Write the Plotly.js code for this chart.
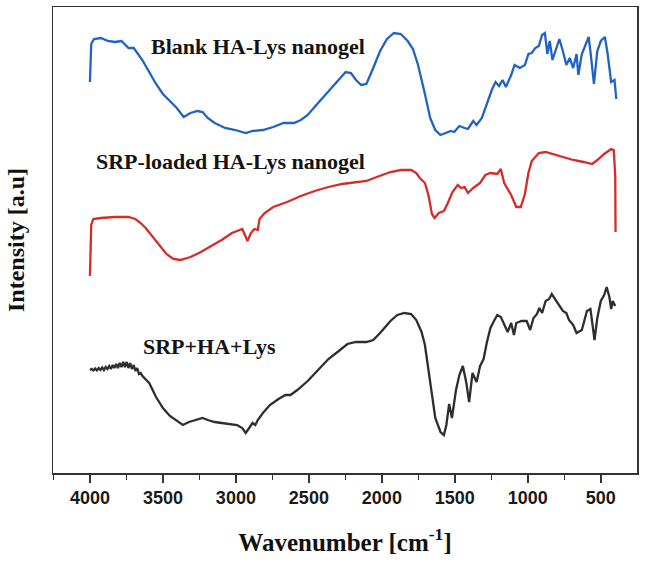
<!DOCTYPE html>
<html>
<head>
<meta charset="utf-8">
<script src="https://cdn.plot.ly/plotly-3.0.1.min.js"></script>
<style>html,body{margin:0;padding:0;background:#fff;}#chart{width:645px;height:562px;}</style>
</head>
<body>
<div id="chart"></div>
<script>
// Wavenumber (cm-1) and intensity (a.u., offset stacked)
const blankX = [4000,3991,3972,3925,3877,3830,3783,3759,3736,3700,3677,3641,3594,3547,3500,3452,3405,3358,3311,3263,3228,3193,3145,3074,3004,2933,2886,2815,2744,2673,2602,2555,2508,2437,2366,2295,2248,2212,2177,2142,2106,2059,2012,1965,1917,1870,1823,1787,1752,1705,1669,1634,1598,1563,1528,1504,1469,1433,1410,1374,1351,1315,1280,1244,1221,1197,1173,1150,1114,1091,1055,1020,996,973,949,925,902,883,866,850,831,807,784,760,736,713,689,666,654,630,607,583,566,547,524,500,472,453,429,406,394];
const blankY = [391,429,434,435,432,431,432,428,425,425,420,413,401,389,379,372,365,356,360,362,361,355,350,345,343,340,342,343,346,350,350,353,358,370,382,394,401,400,393,388,389,405,422,434,440,439,432,424,408,379,355,343,338,340,342,341,347,345,344,352,348,355,370,384,391,387,393,386,398,408,405,408,419,420,425,427,438,440,419,432,413,425,434,422,408,415,405,419,398,419,427,436,415,389,422,432,436,419,391,393,374];

const loadedX = [4000,3991,3977,3925,3830,3736,3689,3653,3618,3570,3523,3476,3429,3381,3311,3240,3169,3098,3027,2980,2956,2938,2921,2897,2874,2850,2838,2803,2744,2649,2555,2460,2366,2272,2177,2106,2035,1941,1870,1799,1764,1740,1705,1681,1657,1639,1610,1575,1551,1516,1480,1457,1433,1410,1374,1327,1291,1256,1209,1185,1162,1114,1079,1048,1020,996,973,925,878,831,760,689,618,559,524,477,429,411,401,399];
const loadedY = [197,248,254,255,256,256,254,250,245,236,228,219,214,213,216,221,227,233,240,243,244,238,232,240,244,243,254,260,266,271,277,282,286,289,291,292,296,301,303,303,300,295,290,278,259,255,260,262,269,281,288,285,286,280,285,290,298,300,299,304,290,278,266,266,279,300,312,320,321,319,316,313,311,309,313,319,324,323,297,241];

const mixX = [4000,3988,3976,3964,3952,3940,3928,3916,3904,3892,3880,3868,3856,3844,3832,3820,3808,3796,3784,3772,3760,3748,3736,3724,3712,3700,3688,3676,3664,3652,3640,3594,3547,3500,3452,3405,3363,3322,3275,3228,3193,3145,3098,3051,2992,2956,2933,2909,2886,2867,2850,2815,2767,2708,2661,2626,2579,2508,2437,2366,2295,2236,2177,2106,2059,2012,1941,1894,1846,1799,1764,1728,1705,1681,1657,1634,1598,1575,1558,1539,1520,1492,1469,1445,1421,1402,1379,1351,1327,1303,1280,1256,1232,1209,1185,1162,1138,1114,1095,1079,1043,1008,984,961,937,921,902,878,854,836,807,784,760,736,718,689,666,630,595,571,543,524,500,477,460,441,429,418,401];
const mixY = [103,104,102.5,104.5,102.5,105,103,105.5,103,106,104,107,104,108,105,109,105,110,106,111,106,111,105,110,104,108,102,105,99,100,97,90,76,65,57,52,48,51,53,55,53,51,50,49,48,45,40,45,50,48,53,60,68,74,78,78,83,92,103,114,122,129,131,131,133,140,152,158,160,159,153,141,128,103,76,55,41,38,48,69,55,83,98,107,90,71,100,91,107,114,131,145,152,158,156,148,141,150,138,150,152,152,143,155,159,165,160,172,174,179,172,167,162,160,153,148,140,143,162,164,133,155,172,178,186,176,164,172,167];

const xTickVals = [4000,3500,3000,2500,2000,1500,1000,500];
const xTickText = ['4000','3500','3000','2500','2000','1500','1000','500'];

const labelText = ['Blank HA-Lys nanogel','SRP-loaded HA-Lys nanogel','SRP+HA+Lys'];
const labelX = [2847,3036,3183];
const labelY = [427,312,127];

const traces = [
  {x: blankX, y: blankY, mode:'lines', line:{color:'#2163c4', width:2.3}, hoverinfo:'skip'},
  {x: loadedX, y: loadedY, mode:'lines', line:{color:'#d42b2b', width:2.3}, hoverinfo:'skip'},
  {x: mixX, y: mixY, mode:'lines', line:{color:'#2e2e2e', width:2.3}, hoverinfo:'skip'}
];

const serif = '"Liberation Serif", "Times New Roman", serif';
const annotations = labelText.map((t,i)=>({
  x: labelX[i], y: labelY[i], xref:'x', yref:'y', text: t, showarrow:false,
  font:{family: serif, size:22, color:'#141414', weight:700}
}));

const layout = {
  width:645, height:562,
  margin:{l:53, r:8, t:7, b:89},
  paper_bgcolor:'#fff', plot_bgcolor:'#fff',
  showlegend:false,
  xaxis:{
    range:[4253,252], autorange:false,
    tickvals:xTickVals, ticktext:xTickText,
    ticks:'outside', ticklen:8, tickwidth:1.5, tickcolor:'#333',
    minor:{tick0:0, dtick:250, ticks:'outside', ticklen:5, tickwidth:1.5, tickcolor:'#333'},
    showline:true, mirror:true, linecolor:'#333', linewidth:1.5,
    showgrid:false, zeroline:false,
    tickfont:{family:'"Liberation Sans", Arial, sans-serif', size:18, color:'#1a1a1a', weight:700},
    title:{text:'Wavenumber [cm<sup>-1</sup>]', font:{family:serif, size:25, color:'#111', weight:700}, standoff:26}
  },
  yaxis:{
    range:[0,466], autorange:false,
    showticklabels:false, ticks:'',
    showline:true, mirror:true, linecolor:'#333', linewidth:1.5,
    showgrid:false, zeroline:false,
    title:{text:'Intensity [a.u]', font:{family:serif, size:24, color:'#111', weight:700}, standoff:20}
  },
  annotations: annotations
};

Plotly.newPlot('chart', traces, layout, {displayModeBar:false, staticPlot:true});
</script>
</body>
</html>
